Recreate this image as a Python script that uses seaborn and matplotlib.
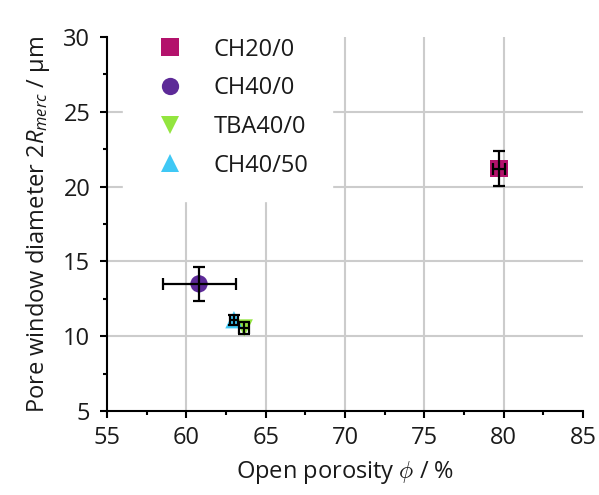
import matplotlib
matplotlib.use("Agg")
import matplotlib.pyplot as plt
import seaborn as sns
import pandas as pd

# Samples: open porosity (x) vs. pore window diameter from mercury intrusion (y)
samples = ["CH20/0", "CH40/0", "TBA40/0", "CH40/50"]
porosity = [79.7, 60.8, 63.65, 63.0]
porosity_err = [0.4, 2.3, 0.3, 0.25]
diameter = [21.2, 13.5, 10.55, 11.1]
diameter_err = [1.15, 1.15, 0.4, 0.35]

colors = {"CH20/0": "#B3126C", "CH40/0": "#5D2A98", "TBA40/0": "#93E53F", "CH40/50": "#3FC8F5"}
markers = {"CH20/0": "s", "CH40/0": "o", "TBA40/0": "v", "CH40/50": "^"}

df = pd.DataFrame({"sample": samples, "porosity": porosity, "diameter": diameter,
                   "xerr": porosity_err, "yerr": diameter_err})

FS = 17
TXT = "#1a1a1a"

sns.set_theme(style="white")
plt.rcParams["font.family"] = ["Open Sans", "DejaVu Sans"]
plt.rcParams["mathtext.fontset"] = "custom"
plt.rcParams["mathtext.rm"] = "Open Sans"
plt.rcParams["mathtext.it"] = "Open Sans:italic"
plt.rcParams["mathtext.fallback"] = "cm"

fig = plt.figure(figsize=(5.99, 4.95), dpi=100)
ax = fig.add_axes([107 / 599, 1 - 411 / 495, (583 - 107) / 599, (411 - 37) / 495])

sns.scatterplot(data=df, x="porosity", y="diameter", hue="sample", style="sample",
                palette=colors, markers=markers, s=155, linewidth=0, ax=ax, zorder=3)

ax.errorbar(df["porosity"], df["diameter"], xerr=df["xerr"], yerr=df["yerr"],
            fmt="none", ecolor="black", elinewidth=1.6, capsize=4.5, capthick=1.6, zorder=4)

ax.set_xlim(55, 85)
ax.set_ylim(5, 30)
ax.set_xticks([55, 60, 65, 70, 75, 80, 85])
ax.set_yticks([5, 10, 15, 20, 25, 30])
ax.set_xticks([57.5, 62.5, 67.5, 72.5, 77.5, 82.5], minor=True)
ax.set_yticks([7.5, 12.5, 17.5, 22.5, 27.5], minor=True)

# interior grid lines only
for xv in [60, 65, 70, 75, 80]:
    ax.axvline(xv, color="#cccccc", lw=1.5, zorder=0)
for yv in [10, 15, 20, 25]:
    ax.axhline(yv, color="#cccccc", lw=1.5, zorder=0)

for side in ["top", "right"]:
    ax.spines[side].set_visible(False)
for side in ["left", "bottom"]:
    ax.spines[side].set_color("black")
    ax.spines[side].set_linewidth(1.5)

ax.tick_params(axis="both", which="major", direction="out", length=5, width=1.5,
               color="black", labelsize=FS, labelcolor=TXT, bottom=True, left=True)
ax.tick_params(axis="x", which="major", pad=6)
ax.tick_params(axis="y", which="major", pad=7)
ax.tick_params(axis="both", which="minor", direction="out", length=3, width=1.5,
               color="black", bottom=True, left=True)

ax.set_xlabel(r"Open porosity $\phi$ / %", fontsize=FS, color=TXT, labelpad=6)
ax.set_ylabel(r"Pore window diameter $2R_{merc}$ / µm", fontsize=FS, color=TXT, labelpad=8)

leg = ax.legend(loc="upper left", bbox_to_anchor=(123 / 599, 481 / 495),
                bbox_transform=fig.transFigure, borderaxespad=0, fontsize=FS,
                frameon=True, facecolor="white", edgecolor="white", framealpha=1,
                borderpad=1.0, handlelength=2, handletextpad=0.85, labelspacing=0.62,
                markerscale=1.0)
leg.set_zorder(5)
for t in leg.get_texts():
    t.set_color(TXT)

fig.savefig("out.png", dpi=100)
